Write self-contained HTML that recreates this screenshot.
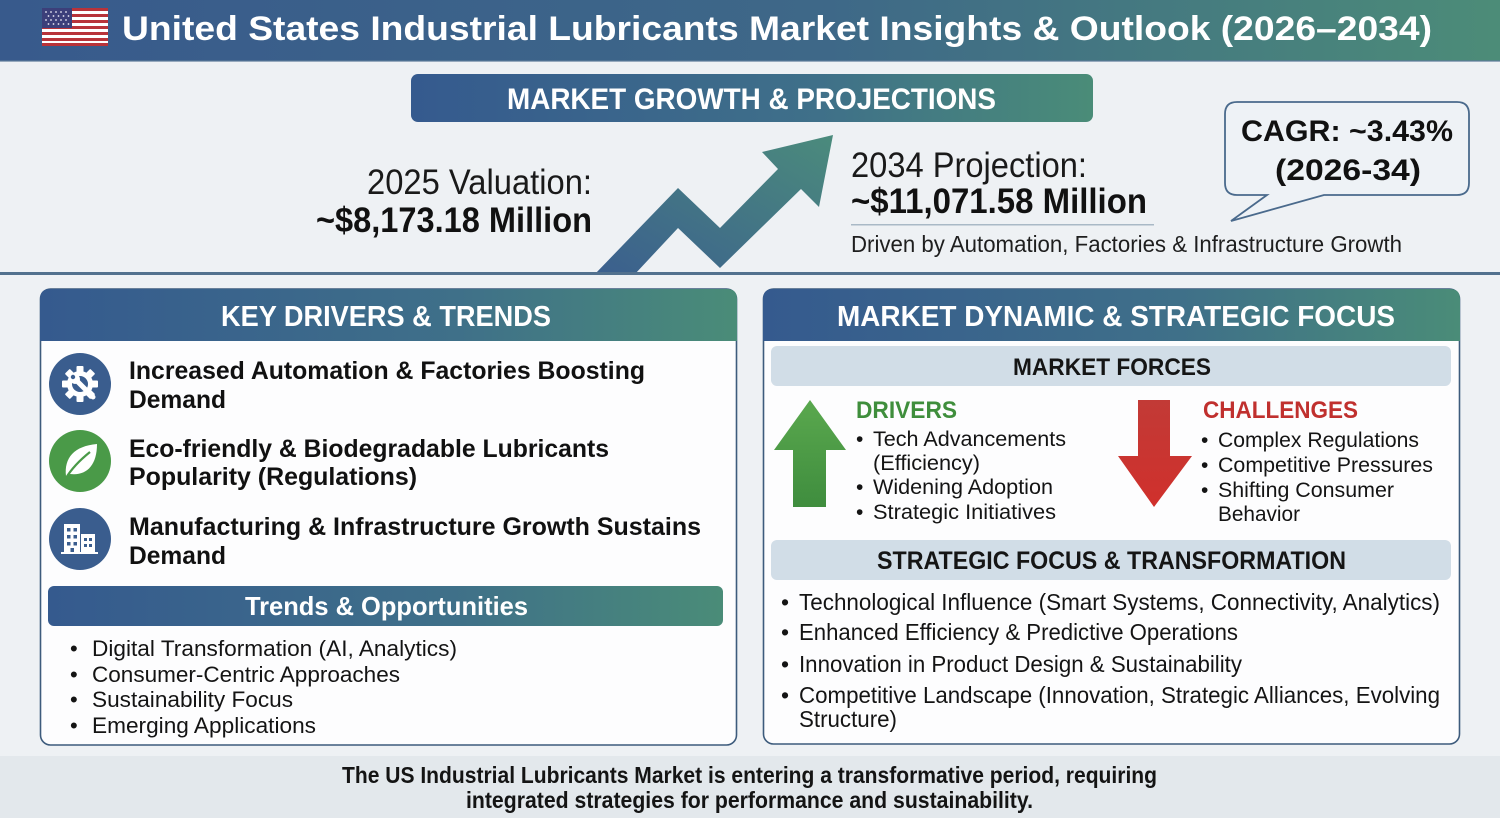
<!DOCTYPE html>
<html><head><meta charset="utf-8"><style>
html,body{margin:0;padding:0;background:#edf1f4;}
svg{display:block;}
text{font-family:"Liberation Sans",sans-serif;}
</style></head><body>
<svg width="1500" height="818" viewBox="0 0 1500 818" xmlns="http://www.w3.org/2000/svg">
<defs>
<linearGradient id="hg" x1="0" y1="0" x2="1" y2="0">
<stop offset="0" stop-color="#385a8c"/><stop offset="0.55" stop-color="#3e6888"/><stop offset="1" stop-color="#4c8c78"/>
</linearGradient>
<linearGradient id="bg2" x1="0" y1="0" x2="1" y2="0">
<stop offset="0" stop-color="#355a8e"/><stop offset="0.6" stop-color="#3f7089"/><stop offset="1" stop-color="#4a8c78"/>
</linearGradient>
<linearGradient id="ag" x1="0" y1="1" x2="1" y2="0">
<stop offset="0" stop-color="#3b5f8e"/><stop offset="1" stop-color="#4b8b7c"/>
</linearGradient>
<linearGradient id="gg" x1="0" y1="0" x2="0" y2="1">
<stop offset="0" stop-color="#5aa84e"/><stop offset="1" stop-color="#3f8d3e"/>
</linearGradient>
<linearGradient id="rg" x1="0" y1="0" x2="0" y2="1">
<stop offset="0" stop-color="#c23a36"/><stop offset="1" stop-color="#d0302c"/>
</linearGradient>
</defs>

<!-- backgrounds -->
<rect x="0" y="0" width="1500" height="818" fill="#eef1f4"/>
<rect x="0" y="756" width="1500" height="62" fill="#e3e8ec"/>

<!-- header -->
<rect x="0" y="0" width="1500" height="61" fill="url(#hg)"/>
<rect x="0" y="60" width="1500" height="2" fill="#5b7a98" opacity="0.6"/>
<!-- flag -->
<g>
<rect x="42" y="8" width="66" height="38" fill="#fff"/>
<rect x="42" y="8" width="66" height="3" fill="#b8333a"/>
<rect x="42" y="14" width="66" height="3" fill="#b8333a"/>
<rect x="42" y="20" width="66" height="3" fill="#b8333a"/>
<rect x="42" y="26" width="66" height="3" fill="#b8333a"/>
<rect x="42" y="32" width="66" height="3" fill="#b8333a"/>
<rect x="42" y="38" width="66" height="3" fill="#b8333a"/>
<rect x="42" y="43" width="66" height="3" fill="#b8333a"/>
<rect x="42" y="8" width="30" height="20" fill="#3c3f7a"/>
<g fill="#e8e8f4">
<circle cx="46" cy="12" r="0.9"/><circle cx="51" cy="12" r="0.9"/><circle cx="56" cy="12" r="0.9"/><circle cx="61" cy="12" r="0.9"/><circle cx="66" cy="12" r="0.9"/>
<circle cx="48.5" cy="16" r="0.9"/><circle cx="53.5" cy="16" r="0.9"/><circle cx="58.5" cy="16" r="0.9"/><circle cx="63.5" cy="16" r="0.9"/><circle cx="68.5" cy="16" r="0.9"/>
<circle cx="46" cy="20" r="0.9"/><circle cx="51" cy="20" r="0.9"/><circle cx="56" cy="20" r="0.9"/><circle cx="61" cy="20" r="0.9"/><circle cx="66" cy="20" r="0.9"/>
<circle cx="48.5" cy="24" r="0.9"/><circle cx="53.5" cy="24" r="0.9"/><circle cx="58.5" cy="24" r="0.9"/><circle cx="63.5" cy="24" r="0.9"/><circle cx="68.5" cy="24" r="0.9"/>
</g>
</g>
<text x="122" y="40" font-size="34" font-weight="bold" fill="#ffffff" textLength="1310" lengthAdjust="spacingAndGlyphs">United States Industrial Lubricants Market Insights &amp; Outlook (2026–2034)</text>

<!-- market growth box -->
<rect x="411" y="74" width="682" height="48" rx="7" fill="url(#bg2)"/>
<text x="507" y="109" font-size="30" font-weight="bold" fill="#ffffff" textLength="489" lengthAdjust="spacingAndGlyphs">MARKET GROWTH &amp; PROJECTIONS</text>

<!-- valuation -->
<text x="367" y="194" font-size="35" fill="#1a1a1a" textLength="225" lengthAdjust="spacingAndGlyphs">2025 Valuation:</text>
<text x="316" y="232" font-size="35" font-weight="bold" fill="#111" textLength="276" lengthAdjust="spacingAndGlyphs">~$8,173.18 Million</text>

<!-- arrow -->
<polygon points="595,274 678,188 720,228 778,169 762,152 833,135 819,207 801,189 720,268 678,228 635,274" fill="url(#ag)"/>

<!-- projection -->
<text x="851" y="177" font-size="35" fill="#1a1a1a" textLength="236" lengthAdjust="spacingAndGlyphs">2034 Projection:</text>
<text x="851" y="213" font-size="35" font-weight="bold" fill="#111" textLength="296" lengthAdjust="spacingAndGlyphs">~$11,071.58 Million</text>
<rect x="851" y="224" width="303" height="1.5" fill="#a9b9c6"/>
<text x="851" y="252" font-size="23" fill="#1e1e1e" textLength="551" lengthAdjust="spacingAndGlyphs">Driven by Automation, Factories &amp; Infrastructure Growth</text>

<!-- CAGR bubble -->
<path d="M1237,102 H1457 Q1469,102 1469,114 V183 Q1469,195 1457,195 H1324 L1231,221 L1267,195 H1237 Q1225,195 1225,183 V114 Q1225,102 1237,102 Z" fill="#eef2f6" stroke="#4a6a8c" stroke-width="1.8"/>
<text x="1241" y="141" font-size="30" font-weight="bold" fill="#111" textLength="212" lengthAdjust="spacingAndGlyphs">CAGR: ~3.43%</text>
<text x="1275" y="180" font-size="30" font-weight="bold" fill="#111" textLength="146" lengthAdjust="spacingAndGlyphs">(2026-34)</text>

<!-- separator -->
<rect x="0" y="272" width="1500" height="3" fill="#52718e"/>

<!-- LEFT PANEL -->
<rect x="40.5" y="289" width="696" height="456" rx="10" fill="#fdfdfe" stroke="#3d5b7c" stroke-width="1.6"/>
<path d="M50,289 H727 Q737,289 737,299 V341 H40 V299 Q40,289 50,289 Z" fill="url(#bg2)"/>
<text x="221" y="326" font-size="29" font-weight="bold" fill="#ffffff" textLength="330" lengthAdjust="spacingAndGlyphs">KEY DRIVERS &amp; TRENDS</text>

<!-- icon 1 gear -->
<circle cx="80" cy="384" r="31" fill="#3a5d8e"/>
<g fill="#fff" transform="translate(80,384)">
<circle r="13"/>
<rect x="-3.5" y="-18" width="7" height="36" rx="1"/>
<rect x="-3.5" y="-18" width="7" height="36" rx="1" transform="rotate(45)"/>
<rect x="-3.5" y="-18" width="7" height="36" rx="1" transform="rotate(90)"/>
<rect x="-3.5" y="-18" width="7" height="36" rx="1" transform="rotate(135)"/>
<circle r="8" fill="#3a5d8e"/>
</g>
<line x1="76" y1="380" x2="93" y2="397" stroke="#fff" stroke-width="5" stroke-linecap="round"/>
<circle cx="75" cy="379" r="5" fill="#fff"/>
<circle cx="73" cy="377" r="2.2" fill="#3a5d8e"/>

<!-- icon 2 leaf -->
<circle cx="80" cy="461" r="31" fill="#4a9a48"/>
<path d="M66,476 C64,458 74,446 97,444 C97,466 86,476 70,474 Z" fill="#fff"/>
<path d="M66,478 C72,468 80,460 90,452" stroke="#4a9a48" stroke-width="2.2" fill="none"/>

<!-- icon 3 building -->
<circle cx="80" cy="539" r="31" fill="#3a5d8e"/>
<rect x="64" y="524" width="16" height="29" fill="#fff"/>
<rect x="81" y="534" width="14" height="19" fill="#fff"/>
<g fill="#3a5d8e">
<rect x="67" y="528" width="3.5" height="3.5"/><rect x="73.5" y="528" width="3.5" height="3.5"/>
<rect x="67" y="535" width="3.5" height="3.5"/><rect x="73.5" y="535" width="3.5" height="3.5"/>
<rect x="67" y="542" width="3.5" height="3.5"/><rect x="73.5" y="542" width="3.5" height="3.5"/>
<rect x="70.5" y="548" width="3.5" height="5"/>
<rect x="84" y="538" width="3" height="3"/><rect x="89" y="538" width="3" height="3"/>
<rect x="84" y="544" width="3" height="3"/><rect x="89" y="544" width="3" height="3"/>
</g>
<rect x="61" y="552" width="37" height="2" fill="#fff"/>

<!-- items text -->
<g font-size="25" font-weight="bold" fill="#111">
<text x="129" y="379" textLength="516" lengthAdjust="spacingAndGlyphs">Increased Automation &amp; Factories Boosting</text>
<text x="129" y="408" textLength="97" lengthAdjust="spacingAndGlyphs">Demand</text>
<text x="129" y="457" textLength="480" lengthAdjust="spacingAndGlyphs">Eco-friendly &amp; Biodegradable Lubricants</text>
<text x="129" y="485" textLength="288" lengthAdjust="spacingAndGlyphs">Popularity (Regulations)</text>
<text x="129" y="535" textLength="572" lengthAdjust="spacingAndGlyphs">Manufacturing &amp; Infrastructure Growth Sustains</text>
<text x="129" y="564" textLength="97" lengthAdjust="spacingAndGlyphs">Demand</text>
</g>

<!-- trends bar -->
<rect x="48" y="586" width="675" height="40" rx="6" fill="url(#bg2)"/>
<text x="245" y="615" font-size="26" font-weight="bold" fill="#fff" textLength="283" lengthAdjust="spacingAndGlyphs">Trends &amp; Opportunities</text>
<g font-size="22" fill="#141414">
<text x="70" y="656">•</text><text x="92" y="656" textLength="365" lengthAdjust="spacingAndGlyphs">Digital Transformation (AI, Analytics)</text>
<text x="70" y="682">•</text><text x="92" y="682" textLength="308" lengthAdjust="spacingAndGlyphs">Consumer-Centric Approaches</text>
<text x="70" y="707">•</text><text x="92" y="707" textLength="201" lengthAdjust="spacingAndGlyphs">Sustainability Focus</text>
<text x="70" y="733">•</text><text x="92" y="733" textLength="224" lengthAdjust="spacingAndGlyphs">Emerging Applications</text>
</g>

<!-- RIGHT PANEL -->
<rect x="763.5" y="289" width="696" height="455" rx="10" fill="#fdfdfe" stroke="#3d5b7c" stroke-width="1.6"/>
<path d="M773,289 H1450 Q1460,289 1460,299 V341 H763 V299 Q763,289 773,289 Z" fill="url(#bg2)"/>
<text x="837" y="326" font-size="29" font-weight="bold" fill="#ffffff" textLength="558" lengthAdjust="spacingAndGlyphs">MARKET DYNAMIC &amp; STRATEGIC FOCUS</text>

<rect x="771" y="346" width="680" height="40" rx="6" fill="#d1dde7"/>
<text x="1013" y="375" font-size="24" font-weight="bold" fill="#151515" textLength="198" lengthAdjust="spacingAndGlyphs">MARKET FORCES</text>

<!-- green up arrow -->
<polygon points="810,400 846,450 826,450 826,507 793,507 793,450 774,450" fill="url(#gg)"/>
<text x="856" y="418" font-size="24" font-weight="bold" fill="#3f8e3c" textLength="101" lengthAdjust="spacingAndGlyphs">DRIVERS</text>
<g font-size="21" fill="#141414">
<text x="856" y="446">•</text><text x="873" y="446" textLength="193" lengthAdjust="spacingAndGlyphs">Tech Advancements</text>
<text x="873" y="470" textLength="107" lengthAdjust="spacingAndGlyphs">(Efficiency)</text>
<text x="856" y="494">•</text><text x="873" y="494" textLength="180" lengthAdjust="spacingAndGlyphs">Widening Adoption</text>
<text x="856" y="519">•</text><text x="873" y="519" textLength="183" lengthAdjust="spacingAndGlyphs">Strategic Initiatives</text>
</g>

<!-- red down arrow -->
<polygon points="1138,400 1170,400 1170,456 1192,456 1154,507 1118,456 1138,456" fill="url(#rg)"/>
<text x="1203" y="418" font-size="24" font-weight="bold" fill="#c0302e" textLength="155" lengthAdjust="spacingAndGlyphs">CHALLENGES</text>
<g font-size="21" fill="#141414">
<text x="1201" y="447">•</text><text x="1218" y="447" textLength="201" lengthAdjust="spacingAndGlyphs">Complex Regulations</text>
<text x="1201" y="472">•</text><text x="1218" y="472" textLength="215" lengthAdjust="spacingAndGlyphs">Competitive Pressures</text>
<text x="1201" y="497">•</text><text x="1218" y="497" textLength="176" lengthAdjust="spacingAndGlyphs">Shifting Consumer</text>
<text x="1218" y="521" textLength="82" lengthAdjust="spacingAndGlyphs">Behavior</text>
</g>

<rect x="771" y="540" width="680" height="40" rx="6" fill="#d1dde7"/>
<text x="877" y="569" font-size="25" font-weight="bold" fill="#151515" textLength="469" lengthAdjust="spacingAndGlyphs">STRATEGIC FOCUS &amp; TRANSFORMATION</text>
<g font-size="23" fill="#141414">
<text x="781" y="610">•</text><text x="799" y="610" textLength="641" lengthAdjust="spacingAndGlyphs">Technological Influence (Smart Systems, Connectivity, Analytics)</text>
<text x="781" y="640">•</text><text x="799" y="640" textLength="439" lengthAdjust="spacingAndGlyphs">Enhanced Efficiency &amp; Predictive Operations</text>
<text x="781" y="672">•</text><text x="799" y="672" textLength="443" lengthAdjust="spacingAndGlyphs">Innovation in Product Design &amp; Sustainability</text>
<text x="781" y="703">•</text><text x="799" y="703" textLength="641" lengthAdjust="spacingAndGlyphs">Competitive Landscape (Innovation, Strategic Alliances, Evolving</text>
<text x="799" y="727" textLength="98" lengthAdjust="spacingAndGlyphs">Structure)</text>
</g>

<!-- footer -->
<g font-size="23" font-weight="bold" fill="#141414">
<text x="342" y="783" textLength="815" lengthAdjust="spacingAndGlyphs">The US Industrial Lubricants Market is entering a transformative period, requiring</text>
<text x="466" y="808" textLength="567" lengthAdjust="spacingAndGlyphs">integrated strategies for performance and sustainability.</text>
</g>
</svg>
</body></html>
